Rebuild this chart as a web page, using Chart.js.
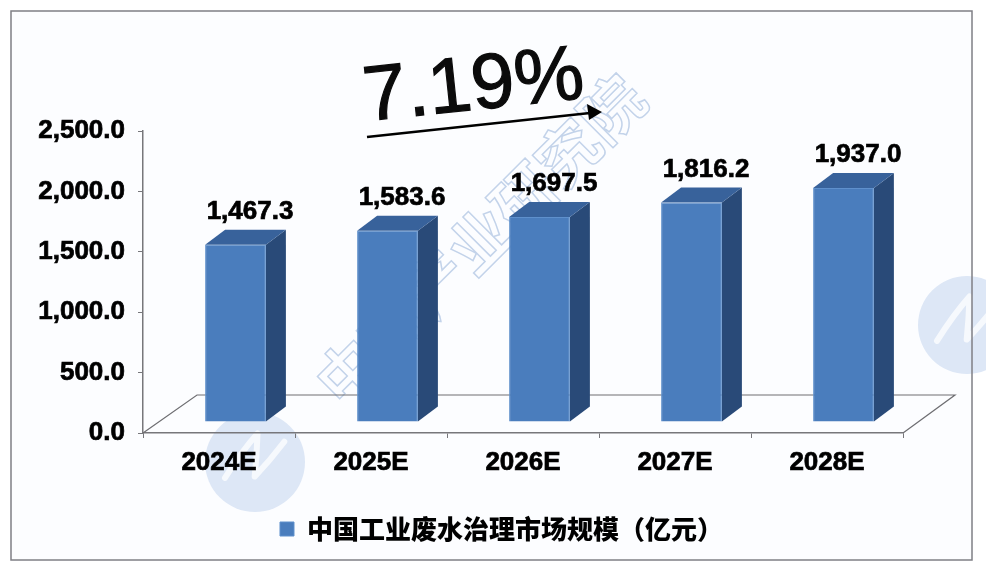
<!DOCTYPE html>
<html>
<head>
<meta charset="utf-8">
<style>
  html, body { margin: 0; padding: 0; background: #fff; }
  #wrap { width: 986px; height: 572px; position: relative; }
</style>
<script src="https://cdn.jsdelivr.net/npm/chart.js@4"></script>
</head>
<body>
<div id="wrap"><canvas id="grafica"></canvas></div>
<script>
const categorias = ['2024E', '2025E', '2026E', '2027E', '2028E'];
const valores = [1467.3, 1583.6, 1697.5, 1816.2, 1937.0];
const nombreSerie = '中国工业废水治理市场规模（亿元）';
const tasa = '7.19%';
const marcaAgua = '中商产业研究院';

const fuente = '"Liberation Sans", Arial, sans-serif';
const fuenteCJK = '"Noto Sans CJK SC", sans-serif';
const formato = v => v.toLocaleString('en-US', { minimumFractionDigits: 1, maximumFractionDigits: 1 });

// fake 3D: front faces are shifted onto the floor, side and top are added by hand
const suelo = { dx: 54, dy: 38 };
const frente = { dx: 16.5, dy: 11 };
const fondo = { dx: 20, dy: 15 };

function poligono(ctx, puntos, color) {
  ctx.beginPath();
  puntos.forEach((p, i) => i ? ctx.lineTo(p[0], p[1]) : ctx.moveTo(p[0], p[1]));
  ctx.closePath();
  ctx.fillStyle = color;
  ctx.fill();
}

function circuloAgua(ctx, x, y, r) {
  ctx.save();
  ctx.translate(x, y);
  ctx.fillStyle = '#dde7f6';
  ctx.beginPath();
  ctx.arc(0, 0, r, 0, Math.PI * 2);
  ctx.fill();
  ctx.rotate(0.3);
  ctx.strokeStyle = '#f6f9fd';
  ctx.lineWidth = 6;
  ctx.lineCap = 'round';
  ctx.lineJoin = 'round';
  ctx.beginPath();
  ctx.moveTo(-24, 24);
  ctx.quadraticCurveTo(-16, -6, -6, -28);
  ctx.quadraticCurveTo(0, -6, 4, 14);
  ctx.quadraticCurveTo(14, -6, 22, -28);
  ctx.stroke();
  ctx.restore();
}

const fondoPlugin = {
  id: 'fondo',
  afterLayout(chart) {
    // the legend sits right of the plot centre
    chart.legend.left += 40;
    chart.legend.right += 40;
  },
  beforeDraw(chart) {
    const { ctx, width, height } = chart;
    ctx.save();
    ctx.fillStyle = '#ffffff';
    ctx.fillRect(0, 0, width, height);
    ctx.fillStyle = '#fcfdff';
    ctx.fillRect(11, 11, 961, 549);
    circuloAgua(ctx, 255, 462, 50);
    circuloAgua(ctx, 967, 325, 49);
    ctx.strokeStyle = '#7f7f85';
    ctx.lineWidth = 1.5;
    ctx.strokeRect(11, 11, 961, 549);
    ctx.restore();
  },
  beforeDatasetsDraw(chart) {
    const { ctx, chartArea: a } = chart;
    ctx.save();
    // watermark
    ctx.translate(480, 240);
    ctx.rotate(-Math.PI / 4);
    ctx.font = 'bold 62px ' + fuenteCJK;
    ctx.textAlign = 'center';
    ctx.textBaseline = 'middle';
    ctx.strokeStyle = '#c3d3ea';
    ctx.lineWidth = 1.5;
    ctx.strokeText(marcaAgua, 0, 0);
    ctx.restore();
    // floor
    ctx.save();
    ctx.strokeStyle = '#6e6e72';
    ctx.lineWidth = 1.2;
    ctx.beginPath();
    ctx.moveTo(a.left, a.bottom);
    ctx.lineTo(a.left + suelo.dx, a.bottom - suelo.dy);
    ctx.lineTo(a.right + suelo.dx - 2, a.bottom - suelo.dy);
    ctx.lineTo(a.right, a.bottom);
    ctx.stroke();
    ctx.restore();
  },
  beforeDatasetDraw(chart, args) {
    const { ctx } = chart;
    chart.getDatasetMeta(args.index).data.forEach(barra => {
      const { x, y, base, width } = barra.getProps(['x', 'y', 'base', 'width'], true);
      const izq = x + frente.dx - width / 2;
      const der = x + frente.dx + width / 2;
      const arriba = y - frente.dy;
      const abajo = base - frente.dy;
      poligono(ctx, [[der, arriba], [der + fondo.dx, arriba - fondo.dy], [der + fondo.dx, abajo - fondo.dy], [der, abajo]], '#294a78');
      poligono(ctx, [[izq, arriba], [izq + fondo.dx, arriba - fondo.dy], [der + fondo.dx, arriba - fondo.dy], [der, arriba]], '#38629b');
    });
    ctx.save();
    ctx.translate(frente.dx, -frente.dy);
  },
  afterDatasetDraw(chart) {
    chart.ctx.restore();
  },
  afterDatasetsDraw(chart) {
    const { ctx } = chart;
    ctx.save();
    ctx.font = 'bold 26px ' + fuente;
    ctx.fillStyle = '#000';
    ctx.strokeStyle = '#000';
    ctx.lineWidth = 0.7;
    ctx.textAlign = 'center';
    ctx.textBaseline = 'middle';
    chart.getDatasetMeta(0).data.forEach((barra, i) => {
      ctx.fillText(formato(valores[i]), barra.x + 31, barra.y - 44);
      ctx.strokeText(formato(valores[i]), barra.x + 31, barra.y - 44);
    });
    ctx.restore();
  },
  afterDraw(chart) {
    const { ctx } = chart;
    ctx.save();
    // growth label and arrow
    ctx.save();
    ctx.translate(366, 121);
    ctx.rotate(-6 * Math.PI / 180);
    ctx.font = '78px ' + fuente;
    ctx.textAlign = 'left';
    ctx.textBaseline = 'alphabetic';
    ctx.fillStyle = '#0b0b0b';
    ctx.strokeStyle = '#0b0b0b';
    ctx.lineWidth = 1.2;
    ctx.fillText(tasa, 0, 0);
    ctx.strokeText(tasa, 0, 0);
    ctx.restore();
    ctx.strokeStyle = '#000';
    ctx.lineWidth = 2.5;
    ctx.beginPath();
    ctx.moveTo(367, 137);
    ctx.lineTo(590, 113);
    ctx.stroke();
    poligono(ctx, [[602, 112], [587, 104], [589, 120]], '#000');
    ctx.restore();
  }
};

new Chart(document.getElementById('grafica').getContext('2d'), {
  type: 'bar',
  data: {
    labels: categorias,
    datasets: [{
      label: nombreSerie,
      data: valores,
      backgroundColor: '#4a7dbd',
      borderColor: '#5f90cc',
      borderWidth: 1,
      barPercentage: 0.4,
      categoryPercentage: 1,
      clip: false
    }]
  },
  plugins: [fondoPlugin],
  options: {
    responsive: true,
    maintainAspectRatio: false,
    animation: false,
    layout: { padding: { top: 131, right: 83, left: 20, bottom: 20 } },
    plugins: {
      tooltip: { enabled: false },
      legend: {
        position: 'bottom',
        labels: {
          boxWidth: 14,
          boxHeight: 14,
          padding: 10,
          color: '#000',
          font: { family: fuenteCJK, size: 26, weight: '900' }
        }
      }
    },
    scales: {
      x: {
        afterFit(eje) { eje.height = 73; },
        grid: { drawOnChartArea: false, color: '#77777b', tickLength: 5, offset: true },
        border: { color: '#77777b', width: 1.5 },
        ticks: { color: '#000', padding: 9, maxRotation: 0, textStrokeColor: '#000', textStrokeWidth: 0.7, font: { family: fuente, size: 26, weight: 'bold' } }
      },
      y: {
        min: 0,
        max: 2500,
        afterFit(eje) { eje.width = 123; },
        grid: { drawOnChartArea: false, color: '#77777b', tickLength: 5 },
        border: { color: '#77777b', width: 1.5 },
        ticks: {
          stepSize: 500,
          color: '#000',
          padding: 13,
          textStrokeColor: '#000',
          textStrokeWidth: 0.7,
          font: { family: fuente, size: 26, weight: 'bold' },
          callback: v => formato(v)
        }
      }
    }
  }
});
</script>
</body>
</html>
